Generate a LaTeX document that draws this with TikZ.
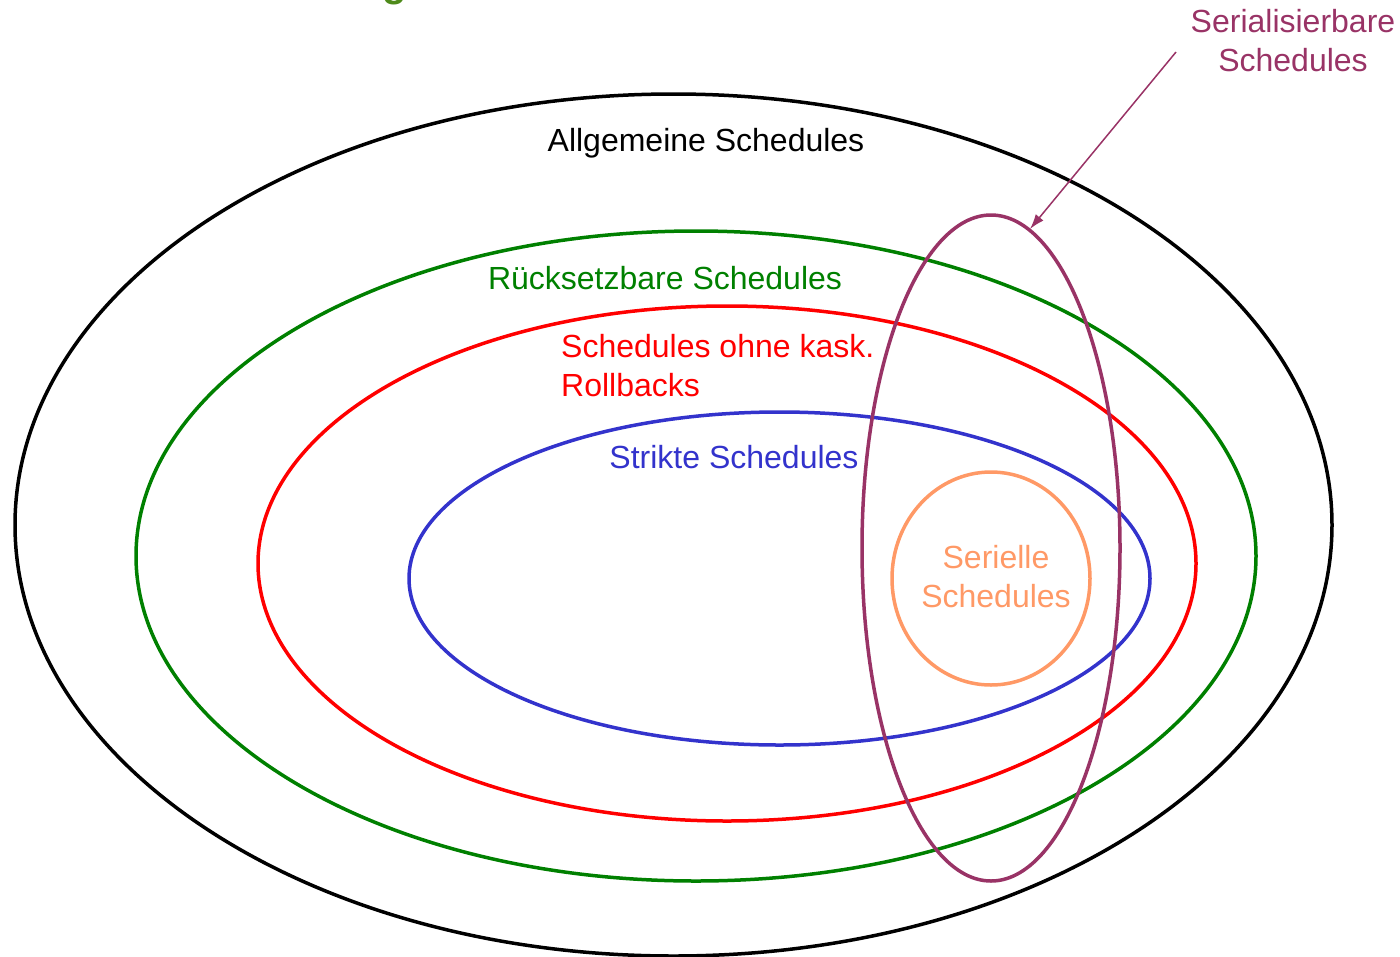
\documentclass[tikz,border=0pt]{standalone}
\usepackage{fontspec}
\setmainfont{Liberation Sans}
\usetikzlibrary{arrows.meta}

\definecolor{titlegreen}{RGB}{78,138,26}
\definecolor{setgreen}{RGB}{0,128,0}
\definecolor{setred}{RGB}{255,0,0}
\definecolor{setblue}{RGB}{51,51,204}
\definecolor{setpurple}{RGB}{153,51,102}
\definecolor{setorange}{RGB}{255,153,102}

\tikzset{
  setline/.style={line width=3.5pt},
  setlabel/.style={inner sep=0pt, font=\fontsize{32}{39}\selectfont}
}

\begin{document}
\begin{tikzpicture}[x=1pt,y=-1pt]
\useasboundingbox (0,0) rectangle (1400,956);
% title (cut off at the top)
\node[anchor=base, inner sep=0pt, text=titlegreen, font=\fontsize{40}{48}\selectfont\bfseries] (titleg) at (395,-4) {g};

% the sets
\draw[setline] (673.5,525) ellipse (658.5 and 431);
\draw[setline, setgreen] (696,556) ellipse (560 and 325);
\draw[setline, setred] (727,563.5) ellipse (469 and 257.5);
\draw[setline, setblue] (779.5,578.5) ellipse (370.5 and 166.5);
\draw[setline, setorange] (991,578.5) ellipse (99 and 106.5);
\draw[setline, setpurple] (991,548) ellipse (129 and 333);

% labels
\node[setlabel, anchor=base] (allg) at (706,151) {Allgemeine Schedules};
\node[setlabel, anchor=base, text=setgreen] (rueck) at (665,289) {Rücksetzbare Schedules};
\node[setlabel, anchor=north west, align=left, text=setred] (kask) at (561,334) {Schedules ohne kask.\\Rollbacks};
\node[setlabel, anchor=base, text=setblue] (strikt) at (734,468) {Strikte Schedules};
\node[setlabel, align=center, text=setorange] (seriell) at (996,577) {Serielle\\Schedules};
\node[setlabel, align=center, text=setpurple] (serbar) at (1293,41) {Serialisierbare\\Schedules};

% pointer to the serializable set
\coordinate (arrstart) at (1176,52);
\coordinate (arrtip) at (1030,229);
\draw[setpurple, line width=1.5pt, -{Latex[length=15pt,width=10pt]}] (arrstart) -- (arrtip);
\end{tikzpicture}
\end{document}
